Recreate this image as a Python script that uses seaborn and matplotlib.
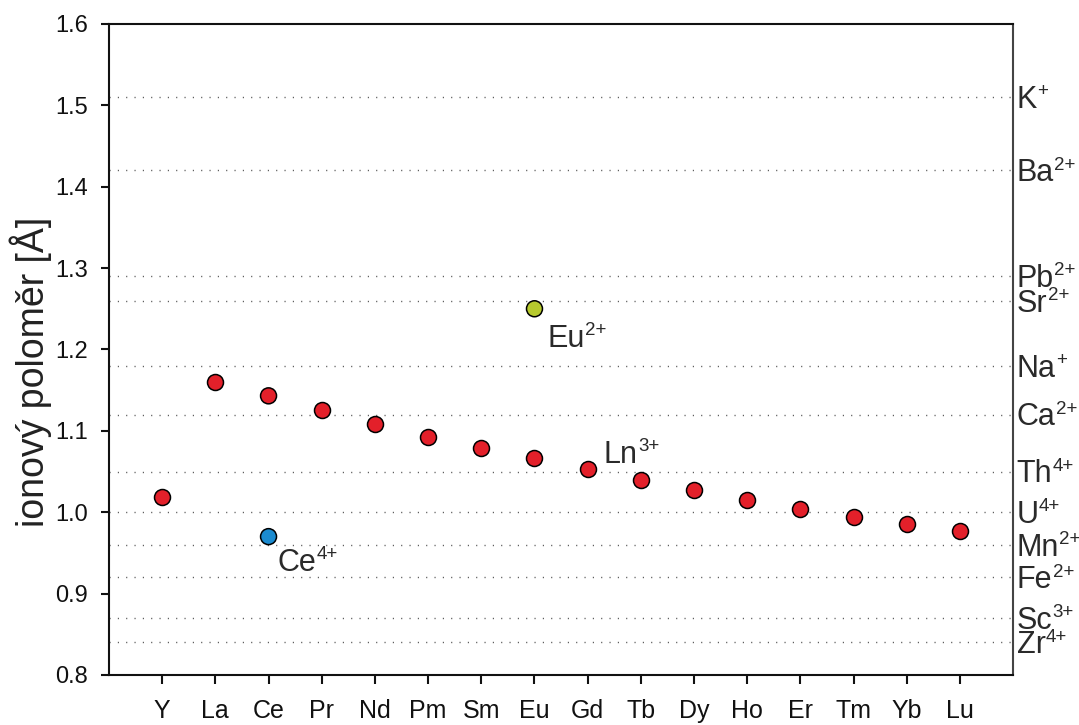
import matplotlib
matplotlib.use("Agg")
import matplotlib.pyplot as plt
import seaborn as sns
import pandas as pd

# Ionic radii (Å) of the rare earth elements, trivalent state
elements = ["Y", "La", "Ce", "Pr", "Nd", "Pm", "Sm", "Eu",
            "Gd", "Tb", "Dy", "Ho", "Er", "Tm", "Yb", "Lu"]
radii_3plus = [1.019, 1.160, 1.143, 1.126, 1.109, 1.093, 1.079, 1.066,
               1.053, 1.040, 1.027, 1.015, 1.004, 0.994, 0.985, 0.977]

# Other valence states
other_elements = ["Eu", "Ce"]
other_radii = [1.25, 0.97]
other_kinds = ["Eu2+", "Ce4+"]

# Reference ions drawn as dotted horizontal lines (symbol, charge, radius)
ref_symbols = ["K", "Ba", "Pb", "Sr", "Na", "Ca", "Th", "U", "Mn", "Fe", "Sc", "Zr"]
ref_charges = ["+", "2+", "2+", "2+", "+", "2+", "4+", "4+", "2+", "2+", "3+", "4+"]
ref_radii = [1.51, 1.42, 1.29, 1.26, 1.18, 1.12, 1.05, 1.00, 0.96, 0.92, 0.87, 0.84]

y_ticks = [0.8, 0.9, 1.0, 1.1, 1.2, 1.3, 1.4, 1.5, 1.6]

palette = {"Ln3+": "#e3202a", "Eu2+": "#b7ca2e", "Ce4+": "#1b8bd0"}

df = pd.DataFrame({
    "element": elements + other_elements,
    "radius": radii_3plus + other_radii,
    "kind": ["Ln3+"] * len(elements) + other_kinds,
})

sns.set_style("ticks")
plt.rcParams["font.family"] = ["Liberation Sans", "DejaVu Sans"]

fig = plt.figure(figsize=(10.79, 7.25), dpi=100)
ax = fig.add_axes([0.101, 0.069, 0.838, 0.898])

# dotted reference lines
for r in ref_radii:
    ax.axhline(r, color="#555555", lw=1.0, ls=(0, (0.8, 5.2)), zorder=1)

sns.stripplot(data=df, x="element", y="radius", hue="kind", order=elements,
              palette=palette, jitter=False, dodge=False, size=11.5,
              linewidth=1.1, edgecolor="black", legend=False, ax=ax, zorder=3)

ax.set_xlim(-1, len(elements))
ax.set_ylim(0.8, 1.6)
ax.set_yticks(y_ticks)
ax.set_yticklabels([f"{t:.1f}" for t in y_ticks])
ax.set_xlabel("")
ax.set_ylabel("ionový poloměr [Å]", fontsize=27, color="#222222")
ax.yaxis.set_label_coords(-0.063, 0.465)

for side in ["left", "bottom", "top"]:
    ax.spines[side].set_color("#111111")
    ax.spines[side].set_linewidth(1.5)
ax.spines["right"].set_visible(True)
ax.spines["right"].set_color("#444444")
ax.spines["right"].set_linewidth(1.5)

ax.tick_params(axis="y", direction="out", length=6, width=1.5, pad=9,
               labelsize=17, colors="#111111")
ax.tick_params(axis="x", direction="out", length=6.5, width=1.5, pad=11,
               labelsize=18, colors="#111111")

label_size = 22
sup_size = 13.5
cap = 0.716 * label_size
text_color = "#2a2a2a"


def ion_label(symbol, charge, xy, xycoords, offset):
    """Element symbol with its charge written as a superscript."""
    base = ax.annotate(symbol, xy=xy, xycoords=xycoords, xytext=offset,
                       textcoords="offset points", ha="left", va="baseline",
                       fontsize=label_size, color=text_color,
                       annotation_clip=False)
    ax.annotate(charge, xy=(1.0, 1.0), xycoords=base, xytext=(0.3, 1.2),
                textcoords="offset points", ha="left", va="top",
                fontsize=sup_size, color=text_color, annotation_clip=False)


# labels of the reference ions, right of the frame
yx = ax.get_yaxis_transform()
for sym, ch, r in zip(ref_symbols, ref_charges, ref_radii):
    ion_label(sym, ch, (1.0, r), yx, (2.5, -cap / 2))

# labels of the valence groups
ion_label("Eu", "2+", ("Eu", other_radii[0]), "data", (9.5, -27.5))
ion_label("Ce", "4+", ("Ce", other_radii[1]), "data", (6.5, -24.5))
ion_label("Ln", "3+", (8.3, 1.061), "data", (0, 0))

fig.savefig("out.png", dpi=100)
